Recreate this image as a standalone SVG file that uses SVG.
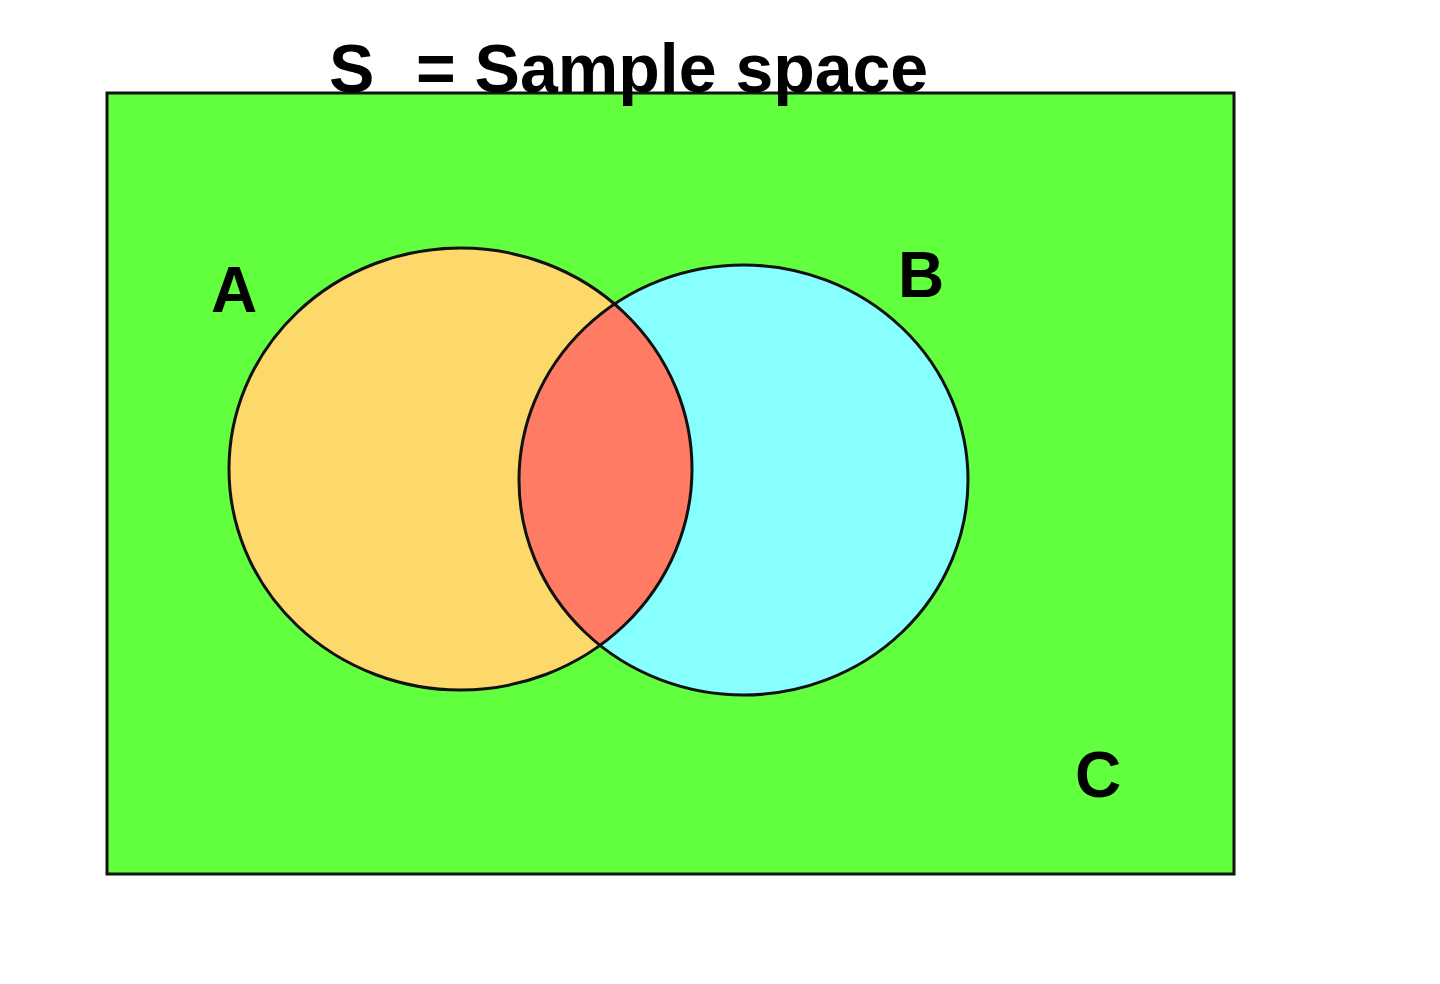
<svg xmlns="http://www.w3.org/2000/svg" width="1440" height="984" viewBox="0 0 1440 984">
<style>
.lbl{font-family:"Liberation Sans",Arial,sans-serif;font-weight:bold;fill:#000}
.edge{fill:none;stroke:#111;stroke-width:3}
</style>
<defs>
<clipPath id="clipA"><ellipse cx="460.5" cy="469" rx="231.5" ry="221"/></clipPath>
</defs>
<rect width="1440" height="984" fill="#ffffff"/>
<g id="sample-space">
<rect x="107" y="93" width="1127" height="781" fill="#62FF3F" stroke="#111" stroke-width="3"/>
</g>
<g id="setA">
<ellipse cx="460.5" cy="469" rx="231.5" ry="221" fill="#FDD86B"/>
</g>
<g id="setB">
<ellipse cx="743.5" cy="480" rx="224.5" ry="215" fill="#88FFFF"/>
</g>
<g id="intersection">
<ellipse cx="743.5" cy="480" rx="224.5" ry="215" fill="#FF7B63" clip-path="url(#clipA)"/>
</g>
<g id="outlines">
<ellipse class="edge" cx="460.5" cy="469" rx="231.5" ry="221"/>
<ellipse class="edge" cx="743.5" cy="480" rx="224.5" ry="215"/>
</g>
<g id="labels">
<text class="lbl" font-size="68" y="92" xml:space="preserve"><tspan x="329">S</tspan><tspan x="416">= Sample space</tspan></text>
<text class="lbl" x="211" y="312" font-size="64">A</text>
<text class="lbl" x="898" y="297" font-size="64">B</text>
<text class="lbl" x="1075" y="797" font-size="64">C</text>
</g>
</svg>
